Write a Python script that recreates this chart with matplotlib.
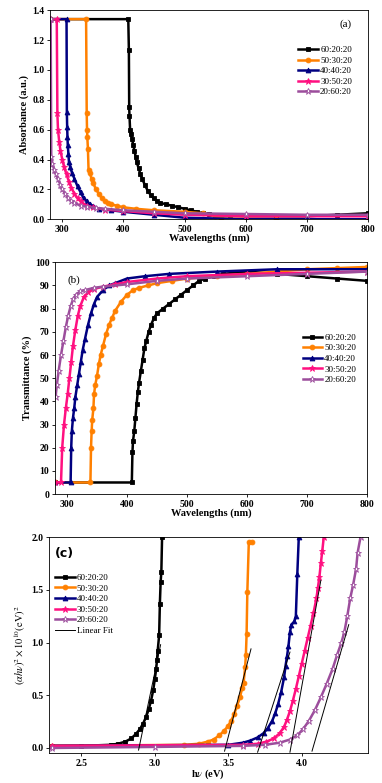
import matplotlib.pyplot as plt

plt.rcParams['font.family'] = ['Liberation Serif', 'DejaVu Serif']
plt.rcParams['mathtext.fontset'] = 'stix'

labels = ['60:20:20', '50:30:20', '40:40:20', '30:50:20', '20:60:20']
colors = ['#000000', '#ff8000', '#000080', '#ff1080', '#9c4d9c']
markers = ['s', 'o', '^', '*', '*']
hollow = [False, False, False, False, True]

# (a) absorbance
abs_wl = [
    [280, 408, 409, 409.5, 410, 411, 412, 414, 416, 418, 420, 422, 425, 428, 431, 435, 440, 445, 450, 455, 460,
     470, 480, 490, 500, 510, 520, 530, 540, 550, 575, 600, 650, 700, 750, 800],
    [280, 339, 340, 340.5, 341, 342, 343, 345, 348, 351, 355, 360, 365, 370, 375, 380, 390, 400, 420, 450, 500,
     530, 550, 560, 650, 800],
    [280, 307, 307.5, 308, 308.5, 309, 310, 311, 313, 316, 320, 325, 330, 335, 340, 345, 350, 360, 380, 400, 450,
     500, 600, 800],
    [280, 291, 292, 293, 295, 297, 300, 303, 307, 311, 315, 320, 325, 330, 340, 350, 370, 400, 450, 500, 600, 800],
    [281, 282, 284, 287, 290, 293, 297, 300, 305, 310, 315, 320, 330, 340, 355, 370, 400, 450, 500, 600, 700, 800],
]
abs_val = [
    [1.34, 1.34, 1.13, 0.75, 0.69, 0.60, 0.57, 0.54, 0.50, 0.46, 0.42, 0.38, 0.34, 0.30, 0.27, 0.23, 0.19, 0.16,
     0.14, 0.12, 0.11, 0.10, 0.09, 0.08, 0.07, 0.06, 0.05, 0.04, 0.035, 0.03, 0.025, 0.02, 0.02, 0.02, 0.03, 0.04],
    [1.34, 1.34, 0.71, 0.60, 0.55, 0.47, 0.33, 0.31, 0.27, 0.24, 0.20, 0.17, 0.14, 0.12, 0.11, 0.10, 0.09, 0.08,
     0.07, 0.06, 0.05, 0.04, 0.02, 0.005, 0.0, 0.0],
    [1.34, 1.34, 0.72, 0.62, 0.55, 0.50, 0.44, 0.38, 0.35, 0.31, 0.27, 0.22, 0.18, 0.14, 0.12, 0.10, 0.09, 0.07,
     0.06, 0.05, 0.03, 0.01, 0.0, 0.0],
    [1.34, 1.34, 0.71, 0.60, 0.52, 0.46, 0.40, 0.35, 0.30, 0.25, 0.21, 0.17, 0.14, 0.12, 0.09, 0.08, 0.065, 0.055,
     0.04, 0.03, 0.02, 0.02],
    [1.34, 0.42, 0.37, 0.33, 0.30, 0.27, 0.23, 0.20, 0.17, 0.14, 0.12, 0.11, 0.09, 0.085, 0.075, 0.07, 0.06, 0.05,
     0.04, 0.035, 0.03, 0.03],
]

# (b) transmittance
tr_wl = [
    [280, 408, 409, 410, 412, 414, 416, 418, 420, 423, 426, 429, 432, 436, 440, 445, 450, 460, 470, 480, 490, 500,
     510, 520, 530, 545, 560, 600, 650, 700, 750, 800],
    [280, 339, 340, 341, 342, 344, 345, 347, 350, 353, 356, 360, 365, 370, 375, 380, 390, 400, 410, 420, 435, 450,
     475, 500, 550, 600, 650, 700, 750, 800],
    [280, 306, 307, 308, 310, 312, 314, 317, 320, 323, 326, 330, 335, 340, 345, 350, 360, 370, 380, 400, 430, 470,
     550, 650, 800],
    [280, 290, 292, 295, 298, 301, 304, 307, 310, 314, 318, 322, 328, 335, 345, 360, 380, 400, 450, 500, 600, 700,
     800],
    [281, 283, 286, 290, 294, 298, 302, 306, 310, 315, 322, 330, 345, 360, 400, 450, 500, 600, 700, 800],
]
tr_val = [
    [5, 5, 18, 23, 27, 33, 39, 44, 48, 53, 58, 63, 66, 70, 73, 76, 78, 80, 82, 84, 86, 88, 90, 92, 93, 94, 95, 96,
     95, 94, 93, 92],
    [5, 5, 20, 27, 32, 37, 43, 47, 51, 56, 60, 64, 69, 73, 76, 79, 83, 86, 88, 89, 90, 91, 92, 93, 94, 95, 96, 97,
     97.5, 98],
    [5, 5, 20, 27, 33, 37, 42, 47, 52, 57, 62, 67, 73, 78, 82, 85, 88, 90, 91, 93, 94, 95, 96, 97, 97],
    [5, 5, 20, 30, 37, 43, 50, 57, 64, 71, 77, 81, 85, 87, 88.5, 89.5, 90.5, 91.5, 93, 94, 95, 95.5, 96],
    [42, 47, 53, 60, 66, 72, 77, 81, 84, 86, 87.5, 88, 89, 89.5, 90.5, 92, 93, 94, 95, 96],
]

# (c) Tauc plot
tauc_e = [
    [2.30, 2.50, 2.70, 2.75, 2.80, 2.84, 2.87, 2.90, 2.92, 2.94, 2.96, 2.975, 2.99, 3.00, 3.01, 3.015, 3.02, 3.03,
     3.035, 3.04, 3.045, 3.05],
    [2.30, 3.20, 3.30, 3.36, 3.40, 3.44, 3.47, 3.50, 3.52, 3.54, 3.56, 3.58, 3.595, 3.605, 3.615, 3.62, 3.625,
     3.63, 3.64, 3.66],
    [2.30, 3.50, 3.60, 3.65, 3.70, 3.74, 3.77, 3.80, 3.82, 3.84, 3.86, 3.88, 3.89, 3.90, 3.91, 3.92, 3.93, 3.95,
     3.96, 3.97, 3.98],
    [2.30, 3.60, 3.70, 3.76, 3.81, 3.85, 3.88, 3.90, 3.92, 3.94, 3.96, 3.98, 4.00, 4.02, 4.04, 4.06, 4.08, 4.10,
     4.11, 4.12, 4.13, 4.14, 4.15],
    [2.30, 3.00, 3.60, 3.75, 3.85, 3.92, 3.97, 4.01, 4.05, 4.09, 4.13, 4.17, 4.21, 4.24, 4.27, 4.29, 4.31, 4.33,
     4.35, 4.37, 4.38, 4.40],
]
tauc_val = [
    [0.02, 0.02, 0.03, 0.04, 0.06, 0.09, 0.13, 0.18, 0.23, 0.29, 0.37, 0.45, 0.55, 0.65, 0.75, 0.83, 0.92, 1.07,
     1.37, 1.57, 1.67, 2.0],
    [0.02, 0.03, 0.04, 0.06, 0.08, 0.12, 0.16, 0.21, 0.26, 0.32, 0.40, 0.48, 0.57, 0.62, 0.77, 0.88, 1.08, 1.48,
     1.95, 1.95],
    [0.02, 0.03, 0.05, 0.07, 0.10, 0.14, 0.19, 0.26, 0.33, 0.42, 0.53, 0.67, 0.78, 0.87, 0.97, 1.10, 1.17, 1.20,
     1.25, 1.65, 2.0],
    [0.02, 0.03, 0.04, 0.06, 0.09, 0.14, 0.20, 0.27, 0.35, 0.45, 0.56, 0.68, 0.80, 0.92, 1.04, 1.16, 1.28, 1.42,
     1.52, 1.62, 1.75, 1.87, 2.0],
    [0.0, 0.01, 0.02, 0.03, 0.05, 0.08, 0.12, 0.18, 0.26, 0.36, 0.48, 0.61, 0.75, 0.88, 1.00, 1.10, 1.25, 1.42,
     1.55, 1.70, 1.85, 2.0],
]
fit_x = [[2.89, 3.04], [3.475, 3.655], [3.70, 3.92], [3.92, 4.13], [4.07, 4.32]]
fit_y = [[-0.02, 0.98], [-0.03, 0.94], [-0.04, 0.91], [-0.04, 1.59], [-0.03, 1.17]]

fig = plt.figure(figsize=(3.82, 7.83), dpi=100)
ax_a = fig.add_axes([0.131, 0.720, 0.832, 0.267])
ax_b = fig.add_axes([0.144, 0.369, 0.817, 0.296])
ax_c = fig.add_axes([0.128, 0.038, 0.835, 0.276])

label_font = dict(fontsize=7.5, fontweight='bold')


def draw_series(ax, xs, ys):
    for i in range(len(labels)):
        face = 'white' if hollow[i] else colors[i]
        ms = 4.5 if markers[i] == '*' else 3.5
        ax.plot(xs[i], ys[i], color=colors[i], marker=markers[i], ms=ms,
                mfc=face, mec=colors[i], mew=0.6, lw=1.8, label=labels[i])


def style_axes(ax):
    for lab in ax.get_xticklabels() + ax.get_yticklabels():
        lab.set_fontsize(7)
        lab.set_fontweight('bold')
    ax.tick_params(length=2.5, width=0.6, pad=1.5)
    for s in ax.spines.values():
        s.set_linewidth(0.6)


draw_series(ax_a, abs_wl, abs_val)
ax_a.set_xlim(280, 800)
ax_a.set_ylim(0, 1.4)
ax_a.set_xticks([300, 400, 500, 600, 700, 800])
ax_a.set_yticks([0.0, 0.2, 0.4, 0.6, 0.8, 1.0, 1.2, 1.4])
ax_a.set_yticklabels(['0.0', '0.2', '0.4', '0.6', '0.8', '1.0', '1.2', '1.4'])
ax_a.set_xlabel('Wavelengths (nm)', labelpad=0, **label_font)
ax_a.set_ylabel('Absorbance (a.u.)', labelpad=2, **label_font)
ax_a.text(0.93, 0.92, '(a)', transform=ax_a.transAxes, ha='center', fontsize=8)
ax_a.legend(loc='upper right', bbox_to_anchor=(0.97, 0.86), frameon=False,
            fontsize=6.5, handlelength=2.2, handletextpad=0.2, labelspacing=0.25,
            borderpad=0.2)
style_axes(ax_a)

draw_series(ax_b, tr_wl, tr_val)
ax_b.set_xlim(280, 800)
ax_b.set_ylim(0, 100)
ax_b.set_xticks([300, 400, 500, 600, 700, 800])
ax_b.set_yticks(range(0, 101, 10))
ax_b.set_xlabel('Wavelengths (nm)', labelpad=0, **label_font)
ax_b.set_ylabel('Transmittance (%)', labelpad=2, **label_font)
ax_b.text(0.04, 0.91, '(b)', transform=ax_b.transAxes, ha='left', fontsize=8)
ax_b.legend(loc='upper right', bbox_to_anchor=(0.985, 0.72), frameon=False,
            fontsize=6.5, handlelength=2.2, handletextpad=0.2, labelspacing=0.25,
            borderpad=0.2)
style_axes(ax_b)

draw_series(ax_c, tauc_e, tauc_val)
for i in range(len(fit_x)):
    ax_c.plot(fit_x[i], fit_y[i], color='black', lw=0.7,
              label='Linear Fit' if i == 0 else None)
ax_c.set_xlim(2.28, 4.45)
ax_c.set_ylim(-0.05, 2.0)
ax_c.set_xticks([2.5, 3.0, 3.5, 4.0])
ax_c.set_yticks([0.0, 0.5, 1.0, 1.5, 2.0])
ax_c.set_xlabel(r'h$\nu$ (eV)', labelpad=0, **label_font)
ax_c.set_ylabel(r'$(\alpha h\nu)^2\times10^{10}(\mathrm{eV})^2$', labelpad=2, **label_font)
ax_c.text(0.02, 0.91, '(c)', transform=ax_c.transAxes, ha='left',
          fontsize=9, fontweight='bold', family='DejaVu Sans')
ax_c.legend(loc='upper left', bbox_to_anchor=(0.0, 0.86), frameon=False,
            fontsize=6.5, handlelength=2.2, handletextpad=0.2, labelspacing=0.25,
            borderpad=0.2)
style_axes(ax_c)

fig.savefig('out.png', dpi=100)
